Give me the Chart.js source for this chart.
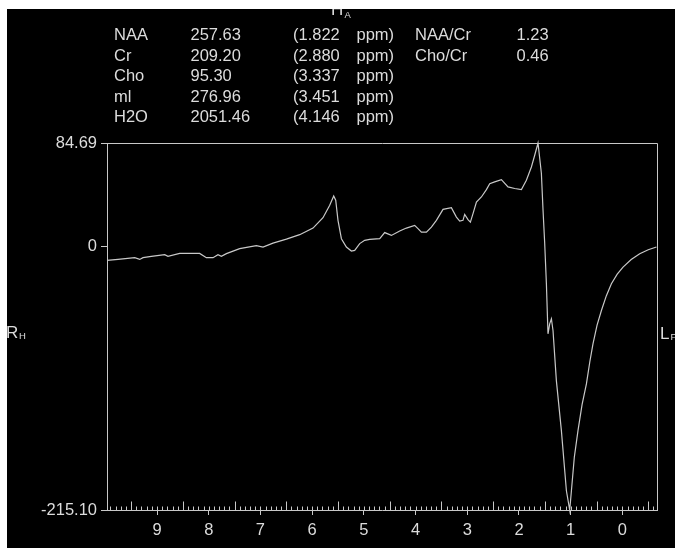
<!DOCTYPE html>
<html>
<head>
<meta charset="utf-8">
<script src="https://cdn.jsdelivr.net/npm/chart.js@4.4.1/dist/chart.umd.min.js"></script>
<style>
  html, body { margin: 0; padding: 0; background: #fff; }
  canvas { display: block; }
</style>
</head>
<body>
<canvas id="c" width="675" height="548"></canvas>
<script>
// ---- data ----
const ppm = [9.967, 9.754, 9.431, 9.334, 9.271, 9.109, 8.851, 8.788, 8.561, 8.175, 8.045, 7.917, 7.821, 7.755, 7.658, 7.401, 7.240, 7.078, 6.950, 6.757, 6.498, 6.241, 5.983, 5.790, 5.660, 5.583, 5.544, 5.500, 5.434, 5.338, 5.241, 5.177, 5.080, 4.984, 4.887, 4.693, 4.597, 4.467, 4.307, 4.177, 4.017, 3.953, 3.887, 3.790, 3.694, 3.597, 3.469, 3.307, 3.210, 3.146, 3.083, 3.050, 2.986, 2.940, 2.889, 2.823, 2.727, 2.630, 2.566, 2.470, 2.340, 2.212, 2.083, 1.953, 1.857, 1.760, 1.696, 1.632, 1.567, 1.535, 1.503, 1.470, 1.439, 1.406, 1.373, 1.342, 1.277, 1.180, 1.083, 1.019, 0.986, 0.930, 0.859, 0.780, 0.696, 0.630, 0.569, 0.490, 0.406, 0.310, 0.213, 0.100, -0.012, -0.170, -0.335, -0.500, -0.658];
const signal = [-11.2, -10.4, -9.0, -10.4, -9.0, -7.9, -6.5, -7.9, -5.5, -5.5, -9.0, -9.0, -6.5, -7.9, -5.7, -1.6, -0.3, 0.8, -0.3, 2.9, 6.2, 9.8, 15.2, 23.7, 33.8, 41.4, 37.9, 21.5, 6.5, -0.3, -3.6, -3.0, 2.5, 5.2, 6.0, 6.5, 11.5, 9.2, 12.8, 15.2, 17.4, 14.7, 11.9, 11.9, 16.0, 21.5, 30.5, 31.9, 24.2, 20.9, 21.5, 26.4, 22.1, 20.1, 27.0, 36.5, 40.6, 46.6, 51.5, 52.9, 54.8, 48.8, 47.5, 46.6, 54.2, 65.1, 74.7, 84.69, 60, 30, 3, -30, -71.2, -63.0, -58.9, -68.5, -109.4, -150.3, -199.4, -215.1, -199.4, -172.0, -150.3, -129.0, -112.1, -94.0, -79.4, -64.0, -52.1, -40.0, -30.3, -22.5, -16.7, -10.5, -5.7, -2.5, -0.3];

const xMin = -0.669, xMax = 9.967;
const xTickValues = [0, 1, 2, 3, 4, 5, 6, 7, 8, 9];
const xTickLabels = ['0', '1', '2', '3', '4', '5', '6', '7', '8', '9'];
const yTickValues = [-215.10, 0, 84.69];
const yTickLabels = ['-215.10', '0', '84.69'];

const metNames = ['NAA', 'Cr', 'Cho', 'ml', 'H2O'];
const metAreas = ['257.63', '209.20', '95.30', '276.96', '2051.46'];
const metShifts = ['(1.822', '(2.880', '(3.337', '(3.451', '(4.146'];
const ratioNames = ['NAA/Cr', 'Cho/Cr'];
const ratioValues = ['1.23', '0.46'];

// ---- styling ----
const FONT = '"Liberation Sans", Arial, sans-serif';
const TXT = '#dcdcdc';
const LINE = '#c8c8c8';

const framePlugin = {
  id: 'frame',
  beforeDraw(chart) {
    const ctx = chart.ctx;
    ctx.save();
    ctx.fillStyle = '#000';
    ctx.fillRect(0, 0, chart.width, chart.height);
    ctx.restore();
  },
  afterDraw(chart) {
    const ctx = chart.ctx;
    const a = chart.chartArea;
    const xs = chart.scales.x;
    ctx.save();
    ctx.strokeStyle = LINE;
    ctx.lineWidth = 1;
    // top and right frame lines
    ctx.beginPath();
    ctx.moveTo(Math.round(a.left) + 0.5, Math.round(a.top) + 0.5);
    ctx.lineTo(Math.round(a.right) + 0.5, Math.round(a.top) + 0.5);
    ctx.lineTo(Math.round(a.right) + 0.5, Math.round(a.bottom) + 0.5);
    ctx.stroke();
    // minor ticks on the ppm axis
    ctx.beginPath();
    const yb = Math.round(a.bottom) + 0.5;
    for (let i = -6; i <= 99; i++) {
      const px = Math.round(xs.getPixelForValue(i / 10)) + 0.5;
      if (px <= a.left + 1 || px >= a.right) continue;
      const len = (i % 10 !== 0 && i % 5 === 0) ? 9 : 4;
      ctx.moveTo(px, yb);
      ctx.lineTo(px, yb - len);
    }
    ctx.stroke();

    // header table
    ctx.fillStyle = TXT;
    ctx.textAlign = 'left';
    ctx.textBaseline = 'alphabetic';
    ctx.font = '16.5px ' + FONT;
    const base0 = 40, step = 20.6;
    for (let i = 0; i < metNames.length; i++) {
      const y = base0 + step * i;
      ctx.fillText(metNames[i], 114, y);
      ctx.fillText(metAreas[i], 190.5, y);
      ctx.fillText(metShifts[i], 293, y);
      ctx.fillText('ppm)', 356.5, y);
    }
    for (let i = 0; i < ratioNames.length; i++) {
      const y = base0 + step * i;
      ctx.fillText(ratioNames[i], 415, y);
      ctx.fillText(ratioValues[i], 516.5, y);
    }
    // orientation labels
    ctx.font = '17px ' + FONT;
    ctx.fillText('H', 331, 15);
    ctx.fillText('R', 6, 338);
    ctx.fillText('L', 660, 339);
    ctx.font = '9.5px ' + FONT;
    ctx.fillText('A', 344.5, 18);
    ctx.fillText('H', 19, 339);
    ctx.fillText('F', 670.5, 340);

    // white border strips (top and left)
    ctx.fillStyle = '#fff';
    ctx.fillRect(0, 0, chart.width, 9);
    ctx.fillRect(0, 0, 7, chart.height);
    ctx.restore();
  }
};

new Chart(document.getElementById('c'), {
  type: 'line',
  data: {
    datasets: [{
      data: ppm.map((p, i) => ({ x: p, y: signal[i] })),
      borderColor: LINE,
      borderWidth: 1.2,
      pointRadius: 0,
      tension: 0,
      fill: false,
      clip: false
    }]
  },
  options: {
    responsive: false,
    animation: false,
    devicePixelRatio: 1,
    parsing: false,
    layout: { padding: { top: 143, right: 18, left: 0, bottom: 0 } },
    plugins: { legend: { display: false }, tooltip: { enabled: false } },
    scales: {
      x: {
        type: 'linear',
        reverse: true,
        min: xMin,
        max: xMax,
        afterBuildTicks: s => { s.ticks = xTickValues.map(v => ({ value: v })); },
        afterFit: s => { s.height = 38; },
        ticks: {
          autoSkip: false,
          maxRotation: 0,
          padding: 6,
          color: TXT,
          font: { family: FONT, size: 16.5 },
          callback: v => xTickLabels[xTickValues.indexOf(v)]
        },
        grid: { drawOnChartArea: false, drawTicks: true, tickLength: 5, color: LINE, tickColor: LINE },
        border: { display: true, color: LINE, width: 1 }
      },
      y: {
        type: 'linear',
        min: -215.10,
        max: 84.69,
        afterBuildTicks: s => { s.ticks = yTickValues.map(v => ({ value: v })); },
        afterFit: s => { s.width = 107; },
        ticks: {
          autoSkip: false,
          padding: 4,
          color: TXT,
          font: { family: FONT, size: 16.5 },
          callback: v => yTickLabels[yTickValues.indexOf(v)]
        },
        grid: { drawOnChartArea: false, drawTicks: true, tickLength: 6, color: LINE, tickColor: LINE },
        border: { display: true, color: LINE, width: 1 }
      }
    }
  },
  plugins: [framePlugin]
});
</script>
</body>
</html>
